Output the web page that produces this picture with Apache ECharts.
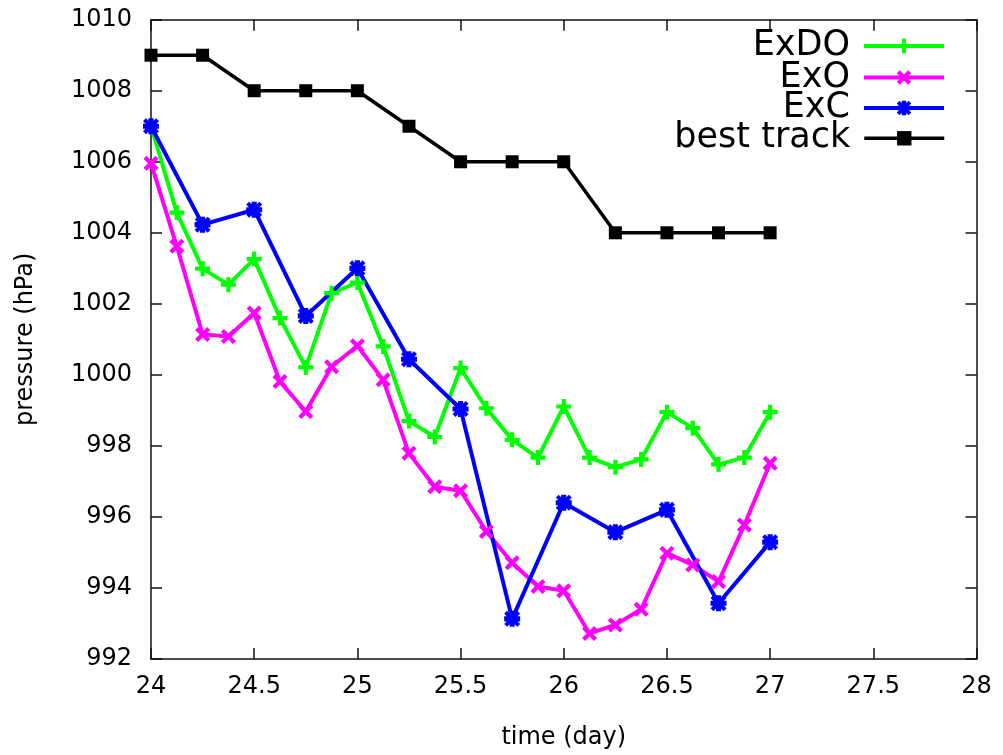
<!DOCTYPE html>
<html>
<head>
<meta charset="utf-8">
<title>Pressure vs time</title>
<script src="https://cdn.jsdelivr.net/npm/echarts@6/dist/echarts.min.js"></script>
<style>
  html, body { margin: 0; padding: 0; background: #fff; }
  #chart { width: 1003px; height: 755px; }
</style>
</head>
<body>
<div id="chart"></div>
<script>
// 3-hourly model output times (day)
var times3h = [24, 24.125, 24.25, 24.375, 24.5, 24.625, 24.75, 24.875,
               25, 25.125, 25.25, 25.375, 25.5, 25.625, 25.75, 25.875,
               26, 26.125, 26.25, 26.375, 26.5, 26.625, 26.75, 26.875, 27];
// 6-hourly times (day)
var times6h = [24, 24.25, 24.5, 24.75, 25, 25.25, 25.5, 25.75, 26, 26.25, 26.5, 26.75, 27];

// central pressure (hPa)
var exdo = [1007.0, 1004.57, 1002.99, 1002.54, 1003.26, 1001.60, 1000.21, 1002.30,
            1002.60, 1000.80, 998.70, 998.25, 1000.19, 999.06, 998.17, 997.67,
            999.11, 997.67, 997.40, 997.62, 998.95, 998.50, 997.48, 997.67, 998.95];
var exo  = [1005.96, 1003.62, 1001.14, 1001.08, 1001.74, 999.81, 998.97, 1000.23,
            1000.82, 999.86, 997.79, 996.85, 996.74, 995.59, 994.71, 994.04,
            993.92, 992.72, 992.96, 993.40, 994.98, 994.65, 994.18, 995.77, 997.51];
var exc  = [1007.0, 1004.23, 1004.65, 1001.66, 1003.0, 1000.44, 999.04, 993.13,
            996.40, 995.57, 996.20, 993.57, 995.29];
var bestTrack = [1009, 1009, 1008, 1008, 1008, 1007, 1006, 1006, 1006, 1004, 1004, 1004, 1004];

var seriesNames = ['ExDO', 'ExO', 'ExC', 'best track'];
var seriesColors = ['#00ff00', '#ff00ff', '#0000ff', '#000000'];
var seriesWidths = [4, 4, 4, 3.5];

// axis settings
var xMin = 24, xMax = 28, xStep = 0.5;
var yMin = 992, yMax = 1010, yStep = 2;

function pairs(xs, ys) {
  return xs.map(function (x, i) { return [x, ys[i]]; });
}

// marker shapes
var plusPath = 'path://M3.6,0H6.4V3.6H10V6.4H6.4V10H3.6V6.4H0V3.6H3.6Z';
var crossPath = 'path://M0,2L2,0L5,3L8,0L10,2L7,5L10,8L8,10L5,7L2,10L0,8L3,5Z';
var starPath = 'path://M3.4,0H6.6V3.4H10V6.6H6.6V10H3.4V6.6H0V3.4H3.4Z M0,1.8L1.8,0L5,3.2L8.2,0L10,1.8L6.8,5L10,8.2L8.2,10L5,6.8L1.8,10L0,8.2L3.2,5Z';

var FONT = 'DejaVu Sans';
var chart = echarts.init(document.getElementById('chart'), null, { renderer: 'canvas' });

var axisLineStyle = { color: '#111', width: 1.5 };

function lineSeries(name, data, color, width, symbol, size) {
  return {
    name: name,
    type: 'line',
    data: data,
    xAxisIndex: 0,
    yAxisIndex: 0,
    symbol: symbol,
    symbolSize: size,
    showAllSymbol: true,
    animation: false,
    lineStyle: { color: color, width: width },
    itemStyle: { color: color, borderWidth: 0 },
    emphasis: { disabled: true }
  };
}

function plainNumber(v) { return String(v); }

var legendRows = [46, 77.5, 108, 138.3];
var legends = seriesNames.map(function (n, i) {
  return {
    data: [n],
    orient: 'horizontal',
    align: 'right',
    right: 57,
    top: legendRows[i] - 18,
    padding: 0,
    itemWidth: 80,
    itemHeight: 18,
    selectedMode: false,
    lineStyle: { width: seriesWidths[i], color: seriesColors[i] },
    textStyle: {
      fontFamily: FONT, fontSize: 35, color: '#000', lineHeight: 36,
      padding: [0, 9, 0, 0]
    }
  };
});

var option = {
  backgroundColor: '#fff',
  animation: false,
  grid: { left: 151, right: 26.5, top: 19.7, bottom: 96, show: false },
  legend: legends,
  xAxis: [{
    type: 'value', min: xMin, max: xMax, interval: xStep,
    position: 'bottom',
    name: 'time (day)', nameLocation: 'middle', nameGap: 67,
    nameTextStyle: { fontFamily: FONT, fontSize: 24, color: '#000' },
    axisLine: { show: true, onZero: false, lineStyle: axisLineStyle },
    axisTick: { show: true, inside: true, length: 11, lineStyle: axisLineStyle },
    axisLabel: { fontFamily: FONT, fontSize: 24, color: '#000', margin: 16, formatter: plainNumber },
    splitLine: { show: false }
  }, {
    type: 'value', min: xMin, max: xMax, interval: xStep,
    position: 'top',
    axisLine: { show: true, onZero: false, lineStyle: axisLineStyle },
    axisTick: { show: true, inside: true, length: 11, lineStyle: axisLineStyle },
    axisLabel: { show: false },
    splitLine: { show: false }
  }],
  yAxis: [{
    type: 'value', min: yMin, max: yMax, interval: yStep,
    position: 'left',
    name: 'pressure (hPa)', nameLocation: 'middle', nameGap: 113,
    nameTextStyle: { fontFamily: FONT, fontSize: 24, color: '#000' },
    axisLine: { show: true, onZero: false, lineStyle: axisLineStyle },
    axisTick: { show: true, inside: true, length: 11, lineStyle: axisLineStyle },
    axisLabel: { fontFamily: FONT, fontSize: 24, color: '#000', margin: 19, formatter: plainNumber },
    splitLine: { show: false }
  }, {
    type: 'value', min: yMin, max: yMax, interval: yStep,
    position: 'right',
    axisLine: { show: true, onZero: false, lineStyle: axisLineStyle },
    axisTick: { show: true, inside: true, length: 11, lineStyle: axisLineStyle },
    axisLabel: { show: false },
    splitLine: { show: false }
  }],
  series: [
    lineSeries(seriesNames[0], pairs(times3h, exdo), seriesColors[0], seriesWidths[0], plusPath, 15),
    lineSeries(seriesNames[1], pairs(times3h, exo), seriesColors[1], seriesWidths[1], crossPath, 15),
    lineSeries(seriesNames[2], pairs(times6h, exc), seriesColors[2], seriesWidths[2], starPath, 16),
    lineSeries(seriesNames[3], pairs(times6h, bestTrack), seriesColors[3], seriesWidths[3], 'rect', 13)
  ]
};

chart.setOption(option);
</script>
</body>
</html>
